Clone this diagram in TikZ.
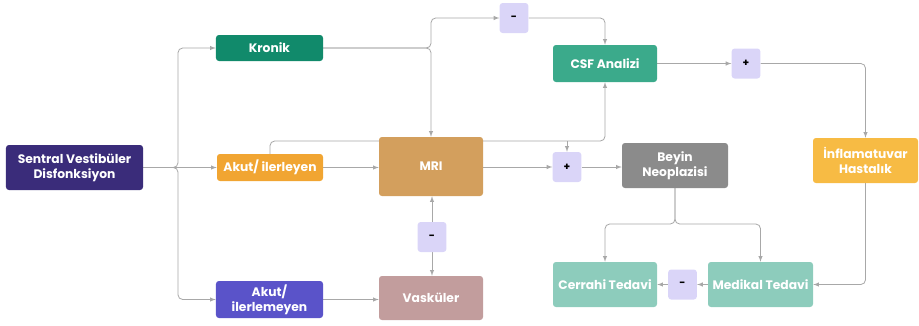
\documentclass[tikz,border=0pt]{standalone}
\usepackage{fontspec}
\setmainfont{Poppins}
\usetikzlibrary{positioning}
\usetikzlibrary{calc}
\usetikzlibrary{arrows,backgrounds}

\definecolor{svcol}{HTML}{3A2C7A}
\definecolor{kronikcol}{HTML}{118A6B}
\definecolor{akutcol}{HTML}{F1A532}
\definecolor{akutbcol}{HTML}{5A53C9}
\definecolor{mricol}{HTML}{D39F5D}
\definecolor{vaskcol}{HTML}{C29D9D}
\definecolor{csfcol}{HTML}{3BAA8B}
\definecolor{beyincol}{HTML}{8B8B8B}
\definecolor{inflamcol}{HTML}{F7BB44}
\definecolor{tedavicol}{HTML}{8DCCBC}
\definecolor{signcol}{HTML}{DAD5F8}
\definecolor{linecol}{HTML}{A8A8A8}

\tikzset{
  box/.style={rounded corners=2.5pt, align=center, text=white, inner sep=0pt,
    font=\bfseries\fontsize{10.5}{13}\selectfont},
  signbox/.style={rounded corners=2.5pt, fill=signcol, inner sep=0pt,
    minimum width=0.86cm, minimum height=0.9cm, font=\bfseries\small},
  link/.style={draw=linecol, line width=0.7pt, rounded corners=4pt},
}

\begin{document}
\begin{tikzpicture}[x=0.03cm,y=-0.03cm]
\useasboundingbox (0,0) rectangle (919,325);

\node[box,fill=svcol,minimum width=4.11cm,minimum height=1.35cm](sentral) at (74.5,167.5){Sentral Vestibüler\\Disfonksiyon};
\node[box,fill=kronikcol,minimum width=3.21cm,minimum height=0.78cm](kronik) at (269.5,48){Kronik};
\node[box,fill=akutcol,minimum width=3.18cm,minimum height=0.81cm](akutA) at (270,167.5){Akut/ ilerleyen};
\node[box,fill=akutbcol,minimum width=3.21cm,minimum height=1.11cm](akutB) at (269.5,299.5){Akut/\\ilerlemeyen};
\node[box,fill=mricol,minimum width=3.12cm,minimum height=1.77cm](mri) at (431,166.5){MRI};
\node[box,fill=vaskcol,minimum width=3.12cm,minimum height=1.32cm](vaskuler) at (431,298){Vasküler};
\node[box,fill=csfcol,minimum width=3.12cm,minimum height=1.11cm](csf) at (605,63.5){CSF Analizi};
\node[box,fill=beyincol,minimum width=3.18cm,minimum height=1.35cm](beyin) at (675,165.5){Beyin\\Neoplazisi};
\node[box,fill=inflamcol,minimum width=3.15cm,minimum height=1.35cm](inflam) at (865.5,160.5){İnflamatuvar\\Hastalık};
\node[box,fill=tedavicol,minimum width=3.12cm,minimum height=1.35cm](cerrahi) at (605,284.5){Cerrahi Tedavi};
\node[box,fill=tedavicol,minimum width=3.15cm,minimum height=1.35cm](medikal) at (760.5,284.5){Medikal Tedavi};

\node[signbox](minusA) at (514,18){-};
\node[signbox](plusA) at (746,63.5){+};
\node[signbox](plusB) at (567,167){+};
\node[signbox](minusB) at (432,237){-};
\node[signbox](minusC) at (682.5,284.5){-};

\coordinate (jsv) at (178,167.5);
\coordinate (jkr) at (431,48);
\coordinate (jak) at (270,141);
\coordinate (jpl) at (567,141);
\coordinate (jbn) at (675,224);

\begin{scope}[on background layer]
\draw[link,-latex] (sentral.east) -- (akutA.west);
\draw[link,-latex] (sentral.east) -- (jsv) |- (kronik.west);
\draw[link,-latex] (sentral.east) -- (jsv) |- (akutB.west);
\draw[link,-latex] (kronik.east) -| (mri.north);
\draw[link,-latex] (kronik.east) -- (jkr) |- (minusA.west);
\draw[link,-latex] (minusA.east) -| (csf.north);
\draw[link,-latex] (akutA.north) -- (jak) -| (csf.south);
\draw[link,-latex] (jpl) -- (plusB.north);
\draw[link,-latex] (akutA.east) -- (akutA.east -| mri.west);
\draw[link,-latex] (akutB.east) -- (akutB.east -| vaskuler.west);
\draw[link,-latex] (plusB.west -| mri.east) -- (plusB.west);
\draw[link,-latex] (plusB.east) -- (plusB.east -| beyin.west);
\draw[link,-latex] (minusB.north) -- (minusB.north |- mri.south);
\draw[link,-latex] (minusB.south) -- (minusB.south |- vaskuler.north);
\draw[link,-latex] (csf.east) -- (plusA.west);
\draw[link,-latex] (plusA.east) -| (inflam.north);
\draw[link,-latex] (inflam.south) |- (medikal.east);
\draw[link,-latex] (beyin.south) -- (jbn) -| (cerrahi.north);
\draw[link,-latex] (beyin.south) -- (jbn) -| (medikal.north);
\draw[link,-latex] (medikal.west) -- (minusC.east);
\draw[link,-latex] (minusC.west) -- (cerrahi.east);
\end{scope}
\end{tikzpicture}
\end{document}
